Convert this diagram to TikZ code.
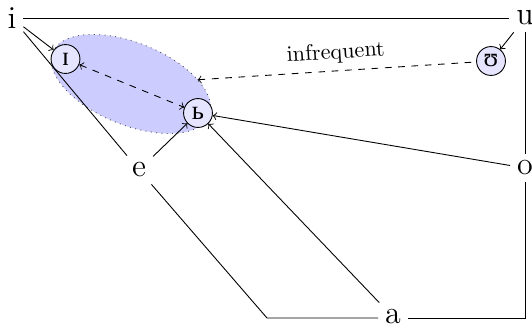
\documentclass[tikz,border=0pt]{standalone}
\usepackage{fontspec}
\newfontfamily\ipafont{Liberation Serif}
\usetikzlibrary{shapes.geometric}
\begin{document}
\begin{tikzpicture}[x=0.45pt,y=-0.45pt,
  lab/.style={font=\Large, inner sep=3pt},
  vow/.style={circle, draw, fill=blue!10, minimum size=13pt, inner sep=0pt, font=\ipafont\large},
  >=to]
\useasboundingbox (0,0) rectangle (532,327);
\node[ellipse, fill=blue!20, draw=black!70, dotted, minimum width=76pt, minimum height=37pt, rotate=-22, outer sep=0pt, inner sep=0pt] (ell) at (131,84) {};
\node[lab] (i) at (12,18) {i};
\node[lab] (u) at (525,18) {u};
\node[lab] (e) at (139,170) {e};
\node[lab] (o) at (525,168) {o};
\node[lab] (a) at (393,317) {a};
\coordinate (bl) at (267,318);
\coordinate (br) at (525,318);
\node[vow] (I) at (65.5,59) {ɪ};
\node[vow] (b) at (198,113) {ь};
\node[vow] (U) at (491,61) {ʊ};
\draw (i) -- (u);
\draw (u) -- (o);
\draw (o) -- (br) -- (a.east |- br);
\draw (a.west |- bl) -- (bl) -- (e);
\draw (e) -- (i);
\draw[->] (i) -- (I);
\draw[->] (u) -- (U);
\draw[->] (e) -- (b);
\draw[->] (a) -- (b);
\draw[->] (o) -- (b);
\draw[<->, dashed] (I) -- (b);
\draw[<-, dashed] (ell) -- node[sloped, above] {infrequent} (U);
\end{tikzpicture}
\end{document}
